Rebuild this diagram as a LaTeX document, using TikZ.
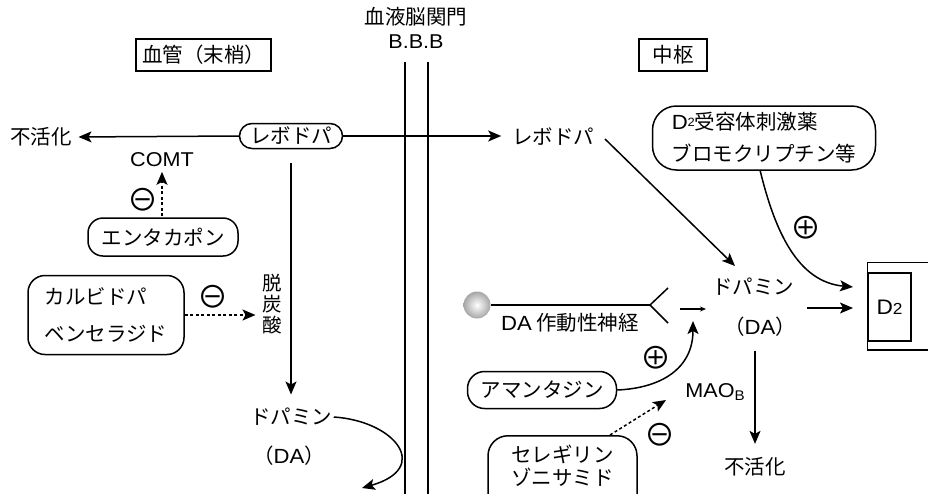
\documentclass[tikz,border=0pt]{standalone}
\usepackage{fontspec}
\setmainfont{Noto Sans CJK JP}
\newfontfamily\symf{Noto Sans CJK JP}
\newfontfamily\latf[FakeStretch=1.08]{Liberation Sans}
\usetikzlibrary{arrows.meta}
\begin{document}
\begin{tikzpicture}[x=1pt,y=-1pt,
  font=\fontsize{20.5}{24}\selectfont,
  line width=1.5pt,
  arr/.style={-{Stealth[length=13pt,width=11pt,inset=3pt]}},
  dotarr/.style={arr, dash pattern=on 3pt off 2.5pt},
  rbox/.style={draw, rounded corners=#1, inner sep=0pt},
  tbox/.style={draw, line width=1.3pt, inner sep=0pt, minimum height=32pt},
  sym/.style={font=\symf\fontsize{31}{31}\selectfont, inner sep=0pt},
  lbl/.style={inner sep=1pt}]
\useasboundingbox (0,0) rectangle (928,493);
\begin{scope}
\clip (0,0) rectangle (928,493);

% blood-brain barrier
\node[lbl] (bbbt) at (416,17) {血液脳関門};
\node[lbl, font=\latf\fontsize{20}{24}\selectfont] (bbb) at (416,42) {B.B.B};
\coordinate (b1t) at (405,62); \coordinate (b1b) at (405,495);
\coordinate (b2t) at (428,62); \coordinate (b2b) at (428,495);
\draw (b1t) -- (b1b);
\draw (b2t) -- (b2b);

% titles
\node[tbox, minimum width=135pt] (peri) at (203.5,55) {血管（末梢）};
\node[tbox, minimum width=68pt] (cent) at (673,55) {中枢};

% left side
\node[rbox=12.5pt, minimum width=103pt, minimum height=25pt] (lev1) at (291,136) {レボドパ};
\node[lbl] (inact1) at (41,137) {不活化};
\node[lbl, font=\latf\fontsize{20}{24}\selectfont] (comt) at (162,160) {COMT};
\node[rbox=15pt, minimum width=150pt, minimum height=38pt] (enta) at (163,237) {エンタカポン};
\node[sym] (m1) at (143,200) {⊖};
\node[rbox=17pt, minimum width=156pt, minimum height=79pt, align=left,
      font=\fontsize{20.5}{37}\selectfont] (carbi) at (106,315) {カルビドパ\\ベンセラジド};
\node[lbl, align=center, font=\fontsize{19.5}{21}\selectfont] (decarb) at (272,304) {脱\\炭\\酸};
\node[sym] (m2) at (213,297) {⊖};
\node[lbl] (da1) at (291,417) {ドパミン};
\node[lbl] (da1b) at (289,456) {（{\latf DA}）};
\coordinate (tipL) at (362,488);
\node[lbl] (lev2) at (553,137) {レボドパ};

\draw[arr, shorten >=5pt] (lev1.west) -- (inact1.east);
\draw[arr, shorten >=9pt] (lev1.east) -- (lev2.west |- lev1.east);
\draw[dotarr, shorten <=1pt, shorten >=3pt] (enta.north -| comt) -- (comt.south);
\draw[dotarr, shorten >=5pt] (carbi.east) -- (carbi.east -| decarb.west);
\draw[arr, shorten <=13.5pt, shorten >=12pt] (lev1.south) -- (lev1.south |- da1.north);
\draw[arr] (da1.east) .. controls (395,421) and (432,468) .. (tipL);

% right side
\node[rbox=24pt, minimum width=223pt, minimum height=64pt, align=left,
      font=\fontsize{20.5}{32}\selectfont] (agon) at (764,138)
      {{\latf D}{\raisebox{0.3ex}{\latf\fontsize{12}{12}\selectfont 2}}受容体刺激薬\\ブロモクリプチン等};
\node[sym] (p1) at (806,228) {⊕};
\node[lbl] (da2) at (753,287) {ドパミン};
\node[lbl] (da2b) at (760,327) {（{\latf DA}）};
\node[draw, minimum width=43pt, minimum height=68pt, inner sep=0pt,
      font=\latf\fontsize{21}{24}\selectfont] (d2) at (889.5,307)
      {D{\fontsize{16}{16}\selectfont 2}};
\draw ([shift={(62,-10)}]d2.north west) -- ([shift={(0,-10)}]d2.north west)
      -- ([shift={(0,8)}]d2.south west) -- ([shift={(62,8)}]d2.south west);
\coordinate (agOut) at (760,170);
\coordinate (d2tip1) at (853,287);
\coordinate (d2tip2) at (853,308);
\coordinate (da2out) at (807,308);
\coordinate (levIn) at (605,139);
\coordinate (daTip) at (735,266);
\draw[arr] (levIn) -- (daTip);
\draw[arr] (agOut) .. controls (775,232) and (798,282) .. (d2tip1);
\draw[arr] (da2out) -- (d2tip2);

% DA nerve
\node[circle, minimum size=27pt, inner sep=0pt, shading=radial,
      inner color=white, outer color=gray!70] (ball) at (477,305) {};
\coordinate (fork) at (650,305);
\coordinate (forku) at (668,288);
\coordinate (forkd) at (668,323);
\draw (ball.east) -- (fork);
\draw (fork) -- (forku);
\draw (fork) -- (forkd);
\node[lbl] (nerve) at (570,323) {{\latf DA} 作動性神経};
\coordinate (sa1) at (680,309);
\coordinate (sa2) at (706,309);
\draw[-{Stealth[length=6pt,width=5pt]}, line width=1.1pt] (sa1) -- (sa2);

\node[rbox=17pt, minimum width=149pt, minimum height=37pt] (aman) at (542,390) {アマンタジン};
\coordinate (amTip) at (693,321);
\draw[arr] (aman.east) .. controls (662,388) and (693,368) .. (amTip);
\node[sym] (p2) at (656,358) {⊕};

\node[lbl, font=\latf\fontsize{20}{24}\selectfont] (maob) at (715,392)
      {MAO\raisebox{-0.3ex}{\fontsize{14}{14}\selectfont B}};
\node[lbl] (inact2) at (755,467) {不活化};
\draw[arr, shorten <=12pt, shorten >=12pt] (da2b.south -| inact2) -- (inact2.north);

\node[rbox=20pt, minimum width=149pt, anchor=north, inner ysep=9pt, align=center,
      font=\fontsize{20.5}{23}\selectfont] (seleg) at (562.5,435)
      {セレギリン\\ゾニサミド\\\mbox{}};
\coordinate (selOut) at (610,435);
\coordinate (selTip) at (666,400);
\draw[dotarr] (selOut) -- (selTip);
\node[sym] (m3) at (660,435) {⊖};
\end{scope}
\end{tikzpicture}
\end{document}
